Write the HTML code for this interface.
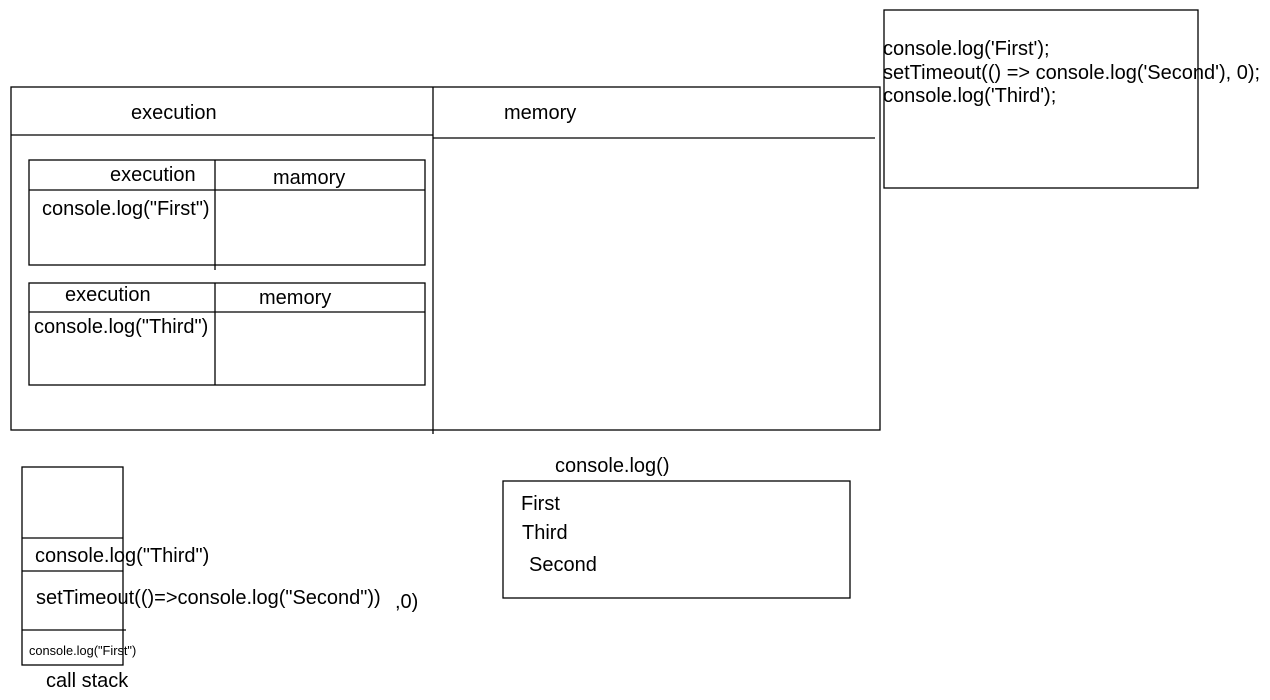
<!DOCTYPE html>
<html><head><meta charset="utf-8"><style>
body{margin:0;width:1270px;height:700px;background:#fff;position:relative;overflow:hidden;font-family:"Liberation Sans",sans-serif;color:#000}
.t{position:absolute;font-size:20px;line-height:1;white-space:nowrap}
svg{position:absolute;left:0;top:0}
</style></head><body>
<svg width="1270" height="700" fill="none" stroke="#000" stroke-width="1.3">
<rect x="11" y="87" width="869" height="343"/>
<line x1="11" y1="135" x2="433" y2="135"/>
<line x1="433" y1="138" x2="875" y2="138"/>
<line x1="433" y1="87" x2="433" y2="434"/>
<rect x="29" y="160" width="396" height="105"/>
<line x1="29" y1="190" x2="425" y2="190"/>
<line x1="215" y1="160" x2="215" y2="270"/>
<rect x="29" y="283" width="396" height="102"/>
<line x1="29" y1="312" x2="425" y2="312"/>
<line x1="215" y1="283" x2="215" y2="385"/>
<rect x="884" y="10" width="314" height="178"/>
<rect x="22" y="467" width="101" height="198"/>
<line x1="22" y1="538" x2="123" y2="538"/>
<line x1="22" y1="571" x2="123" y2="571"/>
<line x1="22" y1="630" x2="126" y2="630"/>
<rect x="503" y="481" width="347" height="117"/>
</svg>
<div class="t" style="left:131px;top:103px">execution</div>
<div class="t" style="left:504px;top:103px">memory</div>
<div class="t" style="left:110px;top:165px">execution</div>
<div class="t" style="left:273px;top:168px">mamory</div>
<div class="t" style="left:42px;top:199px">console.log("First")</div>
<div class="t" style="left:65px;top:285px">execution</div>
<div class="t" style="left:259px;top:288px">memory</div>
<div class="t" style="left:34px;top:317px">console.log("Third")</div>
<div class="t" style="left:883px;top:38px;font-size:20px;line-height:23.5px">console.log('First');<br>setTimeout(() =&gt; console.log('Second'), 0);<br>console.log('Third');</div>
<div class="t" style="left:35px;top:546px">console.log("Third")</div>
<div class="t" style="left:36px;top:588px">setTimeout(()=&gt;console.log("Second"))</div>
<div class="t" style="left:395px;top:592px">,0)</div>
<div class="t" style="left:29px;top:645px;font-size:12.8px">console.log("First")</div>
<div class="t" style="left:46px;top:671px">call stack</div>
<div class="t" style="left:555px;top:456px">console.log()</div>
<div class="t" style="left:521px;top:494px">First</div>
<div class="t" style="left:522px;top:523px">Third</div>
<div class="t" style="left:529px;top:555px">Second</div>
</body></html>
